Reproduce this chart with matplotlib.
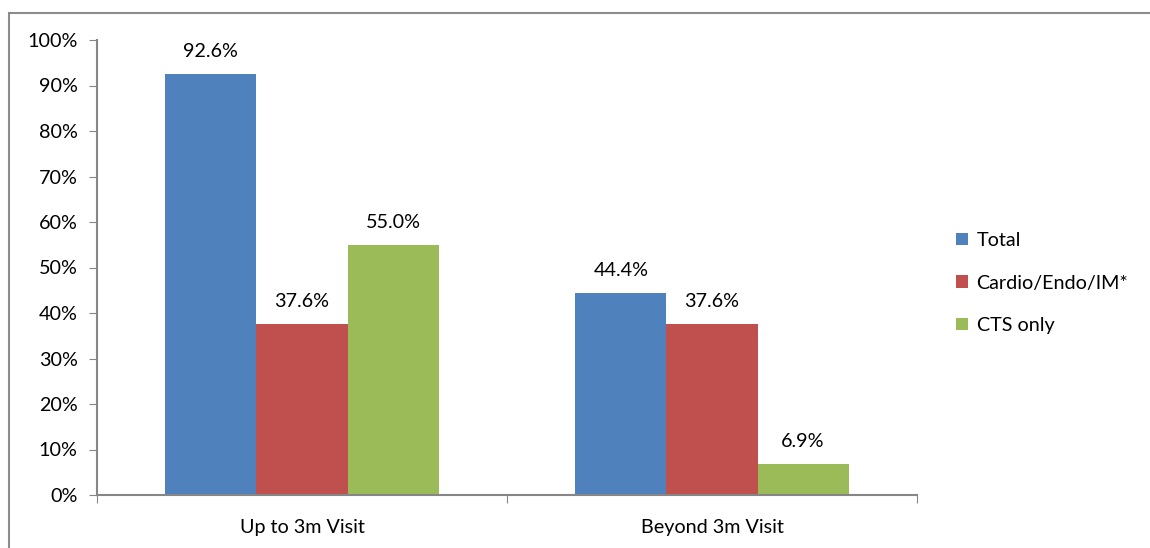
import numpy as np
import matplotlib.pyplot as plt
from matplotlib.patches import Rectangle

plt.rcParams['font.family'] = ['Lato', 'DejaVu Sans']

# Share of patients seen, by visit window and clinic type
visits = ["Up to 3m Visit", "Beyond 3m Visit"]
series = ["Total", "Cardio/Endo/IM*", "CTS only"]
total = [92.6, 44.4]
cardio = [37.6, 37.6]
cts = [55.0, 6.9]
colors = ["#4F81BD", "#C0504D", "#9BBB59"]

fs = 14.2

fig = plt.figure(figsize=(11.5, 5.48), dpi=100)
ax = fig.add_axes([97/1150, 1 - 495/548, (917 - 97)/1150, (495 - 40)/548])

# outer frame of the chart area
fig.patches.append(Rectangle((9/1150, -0.1), 1.2, 1 - 13/548 + 0.1,
                             transform=fig.transFigure, fill=False,
                             edgecolor="#8C8C8C", linewidth=1.5))

x = np.arange(len(visits))
width = 1 / 4.5
for i, (vals, name) in enumerate(zip([total, cardio, cts], series)):
    pos = x + (i - 1) * width
    bars = ax.bar(pos, vals, width, color=colors[i], label=name)
    for b, v in zip(bars, vals):
        ax.text(b.get_x() + b.get_width() / 2, v + 3, f"{v:.1f}%",
                ha="center", va="bottom", fontsize=fs)

ax.set_xlim(-0.5, 1.5)
ax.set_ylim(0, 100)
ax.set_yticks(np.arange(0, 101, 10))
ax.set_yticklabels([f"{t}%" for t in range(0, 101, 10)], fontsize=fs)
ax.set_xticks([-0.5, 0.5, 1.5], minor=False)
ax.set_xticklabels([])
ax.set_xticks(x, minor=True)
ax.set_xticklabels(visits, minor=True, fontsize=fs)
ax.tick_params(axis="x", which="minor", length=0, pad=17)
ax.tick_params(axis="x", which="major", length=6, color="#868686", direction="out")
ax.tick_params(axis="y", length=6, color="#868686", direction="out", pad=8)

for s in ["top", "right"]:
    ax.spines[s].set_visible(False)
for s in ["left", "bottom"]:
    ax.spines[s].set_color("#868686")
    ax.spines[s].set_linewidth(1.5)

handles, labels = ax.get_legend_handles_labels()
fig.legend(handles, labels, loc="center left", bbox_to_anchor=(948/1150, 1 - 283/548),
           frameon=False, fontsize=fs, handlelength=0.6, handleheight=0.6,
           labelspacing=1.3, handletextpad=0.45, borderaxespad=0)

fig.savefig("out.png", dpi=100)
